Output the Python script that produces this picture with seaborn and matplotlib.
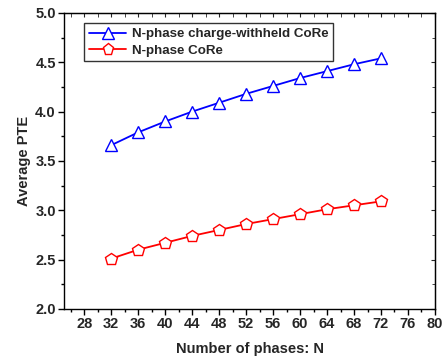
import matplotlib
matplotlib.use("Agg")
import matplotlib.pyplot as plt
import seaborn as sns
from matplotlib.ticker import MultipleLocator

# Data
phases = [32, 36, 40, 44, 48, 52, 56, 60, 64, 68, 72]
withheld_pte = [3.66, 3.79, 3.90, 4.00, 4.09, 4.18, 4.26, 4.34, 4.41, 4.48, 4.54]
core_pte = [2.51, 2.60, 2.67, 2.74, 2.80, 2.86, 2.91, 2.96, 3.01, 3.05, 3.09]
series_names = ["N-phase charge-withheld CoRe", "N-phase CoRe"]
series_colors = ["#0000ff", "#ff0000"]
series_markers = ["^", "p"]

sns.set_style("white")
plt.rcParams["font.family"] = ["Liberation Sans", "DejaVu Sans"]
plt.rcParams["font.weight"] = "bold"

fig = plt.figure(figsize=(4.42, 3.6), dpi=100)
ax = fig.add_axes([0.145, 0.142, 0.839, 0.822])

for vals, name, col, mk in zip([withheld_pte, core_pte], series_names,
                               series_colors, series_markers):
    sns.lineplot(x=phases, y=vals, color=col, marker=mk, markersize=9,
                 markerfacecolor="white", markeredgecolor=col,
                 markeredgewidth=1.0, linewidth=1.3, label=name, ax=ax)

ax.set_xlim(25, 80)
ax.set_ylim(2.0, 5.0)
ax.xaxis.set_minor_locator(MultipleLocator(2))
ax.yaxis.set_major_locator(MultipleLocator(0.5))
ax.yaxis.set_minor_locator(MultipleLocator(0.25))
ax.set_xticks(range(28, 81, 4))
ax.set_xlim(25, 80)

ax.tick_params(axis="both", which="major", direction="out", length=4, width=1,
               labelsize=10.5, color="black", bottom=True, left=True, pad=2)
ax.tick_params(axis="both", which="minor", direction="out", length=2.5, width=1,
               color="black", bottom=True, left=True)
for lbl in ax.get_xticklabels() + ax.get_yticklabels():
    lbl.set_fontweight("bold")

# inward ticks on the top and right
top = ax.secondary_xaxis("top")
top.xaxis.set_major_locator(MultipleLocator(4))
top.xaxis.set_minor_locator(MultipleLocator(2))
top.tick_params(which="both", direction="in", length=3, labeltop=False)
right = ax.secondary_yaxis("right")
right.yaxis.set_major_locator(MultipleLocator(0.5))
right.yaxis.set_minor_locator(MultipleLocator(0.25))
right.tick_params(which="major", direction="in", length=3, labelright=False)
right.tick_params(which="minor", direction="in", length=2, labelright=False)

for sp in ax.spines.values():
    sp.set_color("black")
    sp.set_linewidth(1.0)

ax.set_xlabel("Number of phases: N", fontsize=10.5, fontweight="bold", labelpad=8)
ax.set_ylabel("Average PTE", fontsize=10.5, fontweight="bold", labelpad=3)

leg = ax.legend(loc="upper left", bbox_to_anchor=(0.055, 0.965), fontsize=9.6,
                frameon=True, fancybox=False, edgecolor="black",
                handlelength=2.8, borderpad=0.35, labelspacing=0.3,
                handletextpad=0.4, borderaxespad=0.0, markerscale=0.9)
leg.get_frame().set_linewidth(1.0)
for t in leg.get_texts():
    t.set_fontweight("bold")

fig.savefig("out.png", dpi=100)
